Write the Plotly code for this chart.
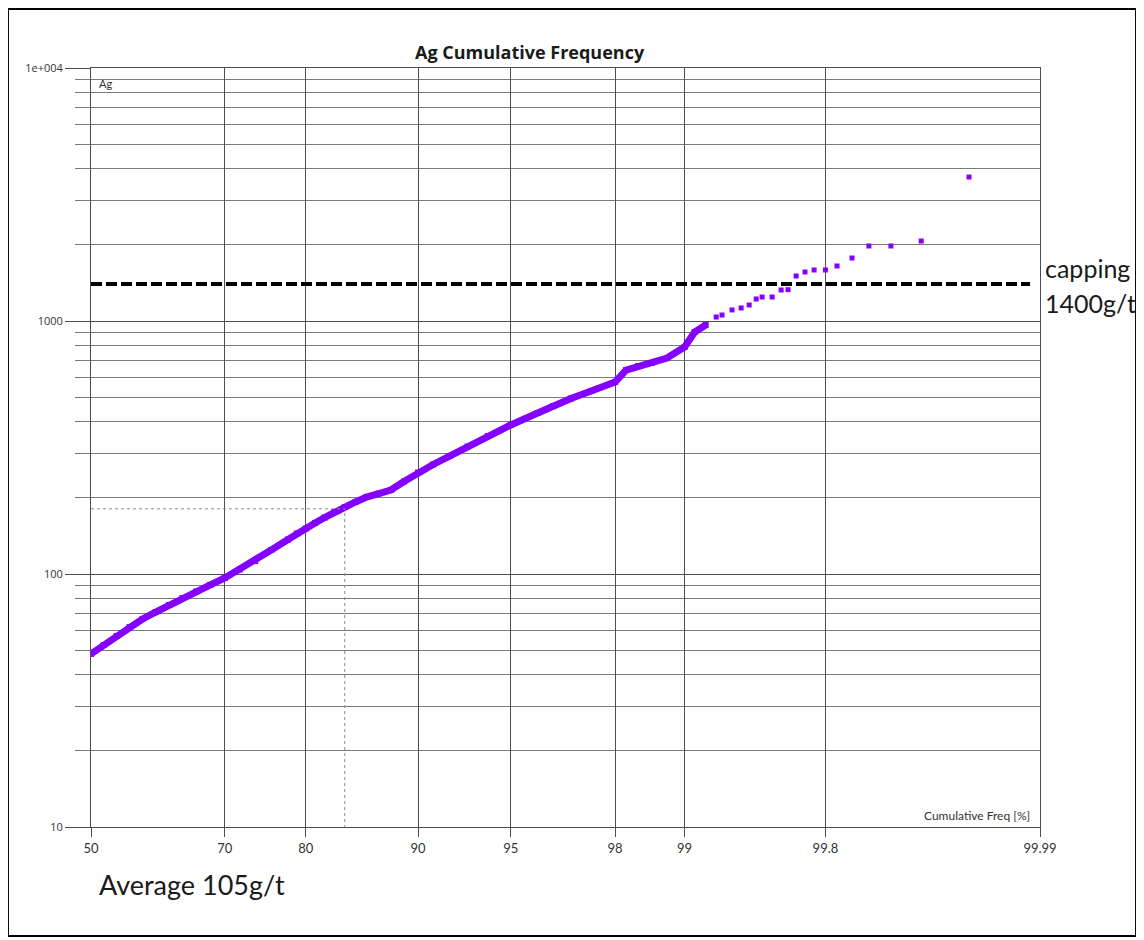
import plotly.graph_objects as go
from statistics import NormalDist

# ---------------- data ----------------
# dense part of the cumulative frequency curve (cumulative freq %, Ag g/t)
dense_freq = [50, 52, 54, 56, 58, 60, 62, 64, 66, 68, 70, 72, 74, 76, 78, 79, 80, 81, 82, 83,
              84, 85, 86, 87, 88, 89, 90, 91, 92, 93, 94, 95, 96, 96.5, 97, 97.5, 98, 98.2,
              98.4, 98.6, 98.8, 99, 99.1, 99.2]
dense_ag = [48.3, 52.4, 56.9, 61.7, 66.4, 70.7, 75.4, 80.4, 85.3, 90.6, 96.4, 104.2, 112.5, 124.4,
            136.9, 144.6, 151.3, 159, 167.2, 175.8, 184, 192.6, 201.5, 208, 214.8, 232, 251.9,
            270.9, 292.6, 319, 351, 388, 432.8, 461.5, 494, 528.6, 574, 640, 664, 682, 714, 789,
            905, 964]

# upper tail, individual samples
tail_freq = [99.286, 99.33, 99.40, 99.458, 99.505, 99.543, 99.573, 99.62, 99.658, 99.685, 99.714,
             99.743, 99.77, 99.80, 99.827, 99.857, 99.885, 99.914, 99.943, 99.971]
tail_ag = [1037, 1056, 1106, 1126, 1157, 1222, 1244, 1244, 1326, 1330, 1506, 1562, 1591, 1591,
           1650, 1774, 1979, 1979, 2071, 3707]

x_tick_freq = [50, 70, 80, 90, 95, 98, 99, 99.8, 99.99]
x_tick_text = ["50", "70", "80", "90", "95", "98", "99", "99.8", "99.99"]
y_major = [10, 100, 1000, 10000]
y_major_text = ["10", "100", "1000", "1e+004"]
y_minor = [m * d for d in (10, 100, 1000) for m in range(2, 10)]

capping_value = 1400          # g/t
avg_marker_value = 181        # g/t, dotted guide
avg_marker_freq = 84.0        # %, dotted guide

# ---------------- helpers ----------------
nd = NormalDist()


def zq(p):
    return nd.inv_cdf(p / 100.0)


PURPLE = "#8400ff"
GRID_MAJ = "#4d4d4d"
GRID_MIN = "#7a7a7a"

fig = go.Figure()

fig.add_trace(go.Scatter(
    x=[zq(p) for p in dense_freq], y=dense_ag, mode="lines+markers",
    line=dict(color=PURPLE, width=7),
    marker=dict(symbol="square", size=6, color=PURPLE),
    showlegend=False, hoverinfo="skip"))

fig.add_trace(go.Scatter(
    x=[zq(p) for p in tail_freq], y=tail_ag, mode="markers",
    marker=dict(symbol="square", size=5, color=PURPLE),
    showlegend=False, hoverinfo="skip"))

# dotted guide lines
fig.add_trace(go.Scatter(
    x=[zq(50), zq(avg_marker_freq), zq(avg_marker_freq)],
    y=[avg_marker_value, avg_marker_value, 10], mode="lines",
    line=dict(color="#8a8a8a", width=1, dash="dot"),
    showlegend=False, hoverinfo="skip"))

# capping line
fig.add_shape(type="line", xref="paper", yref="y", x0=0, x1=0.9895,
              y0=capping_value, y1=capping_value,
              line=dict(color="black", width=4, dash="11px,4px"))

# outer frame
fig.add_shape(type="rect", xref="paper", yref="paper",
              x0=-0.0875, x1=1.1012, y0=-0.1436, y1=1.0777,
              line=dict(color="black", width=2), layer="above")

fig.update_layout(
    width=1136, height=932, autosize=False,
    margin=dict(l=83, r=104, t=60, b=113),
    paper_bgcolor="white", plot_bgcolor="white",
    showlegend=False,
    xaxis=dict(
        range=[0, zq(99.99)],
        tickmode="array", tickvals=[zq(p) for p in x_tick_freq], ticktext=x_tick_text,
        showgrid=True, gridcolor=GRID_MAJ, gridwidth=1,
        ticks="outside", ticklen=9, tickcolor=GRID_MAJ,
        showline=True, linecolor=GRID_MAJ, linewidth=1, mirror=True,
        tickfont=dict(family="Lato", size=13, color="#333333"),
        zeroline=False),
    yaxis=dict(
        type="log", range=[1, 4],
        tickmode="array", tickvals=y_major, ticktext=y_major_text,
        showgrid=True, gridcolor=GRID_MAJ, gridwidth=1,
        ticks="outside", ticklen=25, tickcolor=GRID_MAJ,
        showline=True, linecolor=GRID_MAJ, linewidth=1, mirror=True,
        tickfont=dict(family="Open Sans", size=11, color="#333333"),
        minor=dict(tickmode="array", tickvals=y_minor, ticks="outside", ticklen=15,
                   tickcolor=GRID_MIN, showgrid=True, gridcolor=GRID_MIN, gridwidth=1),
        zeroline=False),
    annotations=[
        dict(text="<b>Ag Cumulative Frequency</b>", xref="paper", yref="paper",
             x=0.4626, y=1.021, showarrow=False, xanchor="center", yanchor="middle",
             font=dict(family="Open Sans", size=18, color="#1a1a1a")),
        dict(text="Ag", xref="paper", yref="paper", x=0.0063, y=0.980, showarrow=False,
             xanchor="left", yanchor="middle",
             font=dict(family="Lato", size=11, color="#333333")),
        dict(text="Cumulative Freq [%]", xref="paper", yref="paper", x=0.9916, y=0.0145,
             showarrow=False, xanchor="right", yanchor="middle",
             font=dict(family="Lato", size=12, color="#333333")),
        dict(text="capping", xref="paper", yref="paper", x=1.0032, y=0.7365,
             showarrow=False, xanchor="left", yanchor="middle",
             font=dict(family="Lato", size=25, color="#1a1a1a")),
        dict(text="1400g/t", xref="paper", yref="paper", x=1.0032, y=0.690,
             showarrow=False, xanchor="left", yanchor="middle",
             font=dict(family="Lato", size=25, color="#1a1a1a")),
        dict(text="Average 105g/t", xref="paper", yref="paper", x=0.0063, y=-0.0764,
             showarrow=False, xanchor="left", yanchor="middle",
             font=dict(family="Lato", size=27, color="#1a1a1a")),
    ],
)

fig.write_html("out.html")
